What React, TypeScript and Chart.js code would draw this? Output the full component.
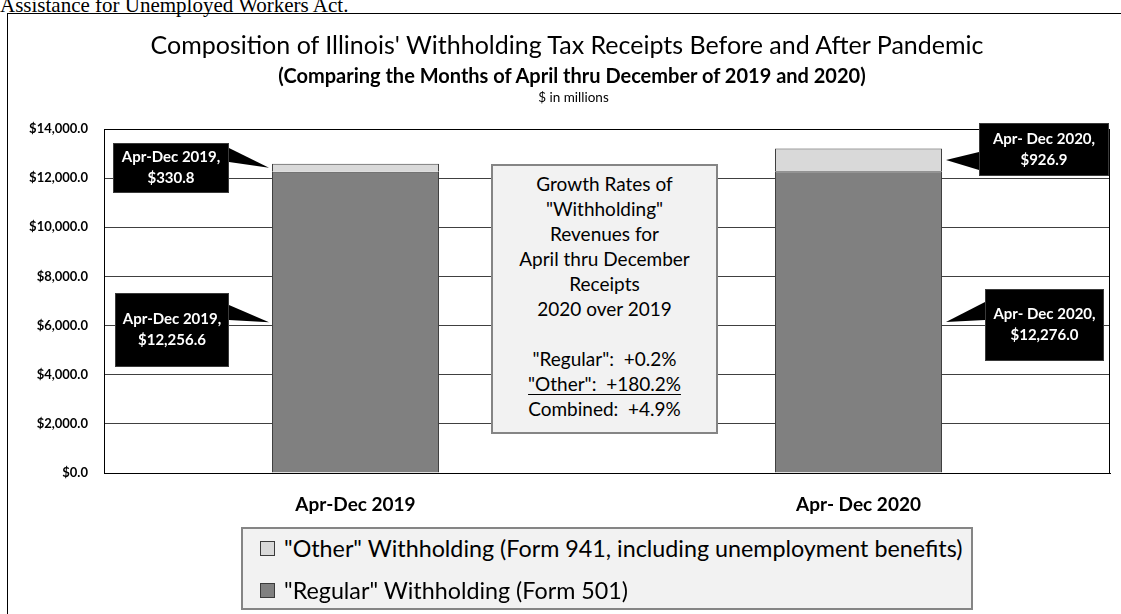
import React, { useEffect, useRef } from "react";
import { Chart, registerables } from "chart.js";

Chart.register(...registerables);

// ---------- data ----------
const categories = ["Apr-Dec 2019", "Apr- Dec 2020"];
const regularValues = [12256.6, 12276.0];
const otherValues = [330.8, 926.9];
const yTicks = [0, 2000, 4000, 6000, 8000, 10000, 12000, 14000];
const seriesNames = [
  '"Other" Withholding (Form 941, including unemployment benefits)',
  '"Regular" Withholding (Form 501)',
];

const fmt = (v: number) =>
  "$" + v.toLocaleString("en-US", { minimumFractionDigits: 1, maximumFractionDigits: 1 });
const pct = (a: number, b: number) => {
  const g = (a / b - 1) * 100;
  return (g >= 0 ? "+" : "") + g.toFixed(1) + "%";
};

const FONT = "Lato, 'Open Sans', sans-serif";
const REG_COLOR = "#808080";
const OTH_COLOR = "#d9d9d9";

// callout layout: dataset index, category index, side, box [x,y,w,h], pointer base y range
const callouts = [
  { ds: 1, i: 0, side: "left", box: [113, 143, 116, 50], base: [148, 162] },
  { ds: 0, i: 0, side: "left", box: [115, 293, 114, 74], base: [305, 320] },
  { ds: 1, i: 1, side: "right", box: [979, 123, 130, 53], base: [152, 170] },
  { ds: 0, i: 1, side: "right", box: [985, 289, 119, 72], base: [302, 320] },
];

const overlayPlugin = {
  id: "overlay",
  afterDatasetsDraw(chart: any) {
    const ctx = chart.ctx as CanvasRenderingContext2D;
    const { left, top, right, bottom } = chart.chartArea;
    ctx.save();
    ctx.strokeStyle = "#000";
    ctx.lineWidth = 1;
    ctx.strokeRect(Math.round(left) + 0.5, Math.round(top) + 0.5, Math.round(right - left) - 1, Math.round(bottom - top));
    callouts.forEach((c) => {
      const el = chart.getDatasetMeta(c.ds).data[c.i];
      const p = el.getProps(["x", "y", "base", "width"], true);
      const tipY = (p.y + p.base) / 2;
      const tipX = c.side === "left" ? p.x - p.width / 2 - 3 : p.x + p.width / 2 + 4;
      const [bx, by, bw, bh] = c.box;
      const edgeX = c.side === "left" ? bx + bw : bx;
      ctx.fillStyle = "#000";
      ctx.strokeStyle = "#3a3a3a";
      ctx.lineWidth = 1;
      ctx.fillRect(bx, by, bw, bh);
      ctx.strokeRect(bx + 0.5, by + 0.5, bw - 1, bh - 1);
      ctx.beginPath();
      ctx.moveTo(edgeX, c.base[0]);
      ctx.lineTo(tipX, tipY);
      ctx.lineTo(edgeX, c.base[1]);
      ctx.closePath();
      ctx.fill();
      const vals = c.ds === 0 ? regularValues : otherValues;
      const lines = [categories[c.i] + ",", fmt(vals[c.i])];
      ctx.fillStyle = "#fff";
      ctx.font = "bold 15px " + FONT;
      ctx.textAlign = "center";
      ctx.textBaseline = "middle";
      const cx = bx + bw / 2;
      const cy = by + bh / 2;
      ctx.fillText(lines[0], cx, cy - 10.5);
      ctx.fillText(lines[1], cx, cy + 10.5);
    });
    ctx.restore();
  },
};

export default function App() {
  const canvasRef = useRef<HTMLCanvasElement | null>(null);

  useEffect(() => {
    document.body.style.margin = "0";
    const chart = new Chart(canvasRef.current as HTMLCanvasElement, {
      type: "bar",
      data: {
        labels: categories,
        datasets: [
          {
            label: seriesNames[1],
            data: regularValues,
            backgroundColor: REG_COLOR,
            borderColor: "#404040",
            borderWidth: 1,
          },
          {
            label: seriesNames[0],
            data: otherValues,
            backgroundColor: OTH_COLOR,
            borderColor: "#404040",
            borderWidth: 1,
          },
        ],
      },
      options: {
        animation: false,
        responsive: true,
        maintainAspectRatio: false,
        events: [],
        layout: { padding: { left: 0, top: 129, right: 11, bottom: 0 } },
        datasets: { bar: { barPercentage: 0.332, categoryPercentage: 1 } },
        plugins: {
          legend: { display: false },
          title: { display: false },
          tooltip: { enabled: false },
        },
        scales: {
          x: {
            stacked: true,
            grid: { display: false },
            border: { display: true, color: "#000", width: 1 },
            ticks: {
              color: "#000",
              font: { family: FONT, size: 19, weight: "bold" },
              padding: 12,
              maxRotation: 0,
            },
            afterFit: (s: any) => {
              s.height = 141;
            },
          },
          y: {
            stacked: true,
            min: 0,
            max: 14000,
            afterBuildTicks: (s: any) => {
              s.ticks = yTicks.map((v) => ({ value: v }));
            },
            grid: { color: "#404040", lineWidth: 1, drawTicks: false },
            border: { display: true, color: "#000", width: 1 },
            ticks: {
              color: "#000",
              font: { family: FONT, size: 13, weight: "bold" },
              padding: 16,
              callback: (v: any) => fmt(Number(v)),
            },
            afterFit: (s: any) => {
              s.width = 104;
            },
          },
        },
      },
      plugins: [overlayPlugin],
    });
    return () => chart.destroy();
  }, []);

  const total0 = regularValues[0] + otherValues[0];
  const total1 = regularValues[1] + otherValues[1];
  const growth = [
    '"Regular":  ' + pct(regularValues[1], regularValues[0]),
    '"Other":  ' + pct(otherValues[1], otherValues[0]),
    "Combined:  " + pct(total1, total0),
  ];

  const centerLines = [
    "Growth Rates of",
    '"Withholding"',
    "Revenues for",
    "April thru December",
    "Receipts",
    "2020 over 2019",
  ];

  return (
    <div style={{ position: "absolute", left: 0, top: 0, width: 1121, height: 614, overflow: "hidden", background: "#fff" }}>
      <div
        style={{
          position: "absolute",
          left: 0,
          top: -5,
          fontFamily: "'Liberation Serif', 'Times New Roman', serif",
          fontSize: 21,
          lineHeight: "21px",
          whiteSpace: "nowrap",
          color: "#000",
        }}
      >
        Assistance for Unemployed Workers Act.
      </div>
      <div
        style={{
          position: "absolute",
          left: 7,
          top: 13,
          width: 1200,
          height: 700,
          borderLeft: "1px solid #000",
          borderTop: "1px solid #000",
        }}
      />
      <div style={{ position: "absolute", left: 0, top: 0, width: 1121, height: 614 }}>
        <canvas ref={canvasRef} />
      </div>
      <div style={{ position: "absolute", left: 0, width: 1134, top: 29, lineHeight: "30px", textAlign: "center", fontFamily: FONT, fontSize: 25, color: "#000", whiteSpace: "nowrap" }}>
        Composition of Illinois' Withholding Tax Receipts Before and After Pandemic
      </div>
      <div style={{ position: "absolute", left: 0, width: 1144, top: 62, lineHeight: "26px", textAlign: "center", fontFamily: FONT, fontSize: 20, fontWeight: "bold", color: "#000", whiteSpace: "nowrap" }}>
        (Comparing the Months of April thru December of 2019 and 2020)
      </div>
      <div style={{ position: "absolute", left: 0, width: 1147, top: 88, lineHeight: "18px", textAlign: "center", fontFamily: FONT, fontSize: 13.5, color: "#000", whiteSpace: "nowrap" }}>
        $ in millions
      </div>

      <div
        style={{
          position: "absolute",
          left: 491,
          top: 164,
          width: 227,
          height: 270,
          boxSizing: "border-box",
          border: "2px solid #858585",
          background: "#f2f2f2",
          paddingTop: 5,
          textAlign: "center",
          fontFamily: FONT,
          fontSize: 19,
          lineHeight: "25px",
          color: "#000",
          whiteSpace: "pre",
        }}
      >
        {centerLines.map((l, k) => (
          <div key={k}>{l}</div>
        ))}
        <div>{" "}</div>
        <div>{growth[0]}</div>
        <div style={{ textDecoration: "underline", textUnderlineOffset: 3 }}>{growth[1]}</div>
        <div>{growth[2]}</div>
      </div>

      <div
        style={{
          position: "absolute",
          left: 241,
          top: 527,
          width: 732,
          height: 83,
          boxSizing: "border-box",
          border: "2px solid #858585",
          background: "#f2f2f2",
          fontFamily: FONT,
          fontSize: 23.3,
          color: "#000",
        }}
      >
        {[OTH_COLOR, REG_COLOR].map((col, k) => (
          <div
            key={k}
            style={{
              position: "absolute",
              left: 17,
              top: k === 0 ? -2 : 40,
              height: 42,
              display: "flex",
              alignItems: "center",
              whiteSpace: "nowrap",
            }}
          >
            <span style={{ display: "inline-block", width: 13, height: 13, background: col, border: "1px solid #3a3a3a", marginRight: 9 }} />
            <span>{seriesNames[k]}</span>
          </div>
        ))}
      </div>
    </div>
  );
}
